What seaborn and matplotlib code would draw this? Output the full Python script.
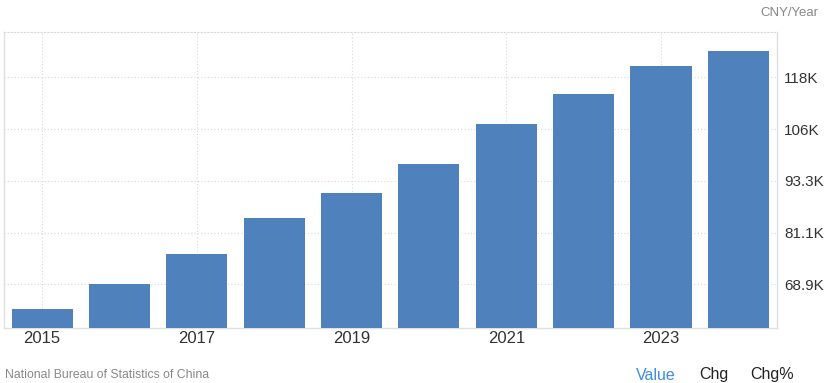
import matplotlib
matplotlib.use("Agg")
import matplotlib.pyplot as plt
import seaborn as sns
import pandas as pd
import numpy as np

years = ["2015", "2016", "2017", "2018", "2019", "2020", "2021", "2022", "2023", "2024"]
values = [63100, 69000, 76000, 84600, 90400, 97300, 106700, 113800, 120400, 123900]
ytick_values = [68900, 81100, 93300, 105500, 117700]
ytick_labels = ["68.9K", "81.1K", "93.3K", "106K", "118K"]
xtick_labels = ["2015", "2017", "2019", "2021", "2023"]

sns.set_theme(style="white")
plt.rcParams['font.family'] = ['Liberation Sans', 'DejaVu Sans']

df = pd.DataFrame({"year": years, "value": values})

fig = plt.figure(figsize=(8.25, 3.83), dpi=100)
ax = fig.add_axes([3.5 / 825, (383 - 328.3) / 383, (777 - 3.5) / 825, (328.3 - 32) / 383])

sns.barplot(data=df, x="year", y="value", color="#4f81bd", saturation=1,
            width=0.79, ax=ax, zorder=3, linewidth=0)

ax.set_xlim(-0.5, len(years) - 0.5)
ax.set_ylim(58530, 128370)

ax.set_yticks(ytick_values)
ax.set_yticklabels(ytick_labels)
ax.yaxis.tick_right()
ax.tick_params(axis="y", length=0, pad=5, labelsize=11, labelcolor="#333333")

xt = [years.index(y) for y in xtick_labels]
ax.set_xticks(xt)
ax.set_xticklabels(xtick_labels)
ax.tick_params(axis="x", length=0, pad=2, labelsize=12, labelcolor="#333333")

ax.grid(True, axis="both", color="#d8d8d8", linestyle=(0, (1, 2)), linewidth=0.8, zorder=0)
ax.set_axisbelow(True)
ax.set_xlabel("")
ax.set_ylabel("")

for side in ["left", "right", "bottom"]:
    ax.spines[side].set_color("#e0e0e0")
    ax.spines[side].set_linewidth(1)
ax.spines["top"].set_color("#d8d8d8")
ax.spines["top"].set_linestyle((0, (1, 2)))
ax.spines["top"].set_linewidth(0.8)

fig.text(818 / 825, 1 - 13 / 383, "CNY/Year", ha="right", va="center", fontsize=9.5, color="#888888")
fig.text(5 / 825, 1 - 375 / 383, "National Bureau of Statistics of China", ha="left", va="center",
         fontsize=8.8, color="#888888")
fig.text(656 / 825, 1 - 375 / 383, "Value", ha="center", va="center", fontsize=11.5, color="#3a8ee6")
fig.text(714 / 825, 1 - 375 / 383, "Chg", ha="center", va="center", fontsize=11.5, color="#222222")
fig.text(772 / 825, 1 - 375 / 383, "Chg%", ha="center", va="center", fontsize=11.5, color="#222222")

fig.savefig("out.png", dpi=100)
